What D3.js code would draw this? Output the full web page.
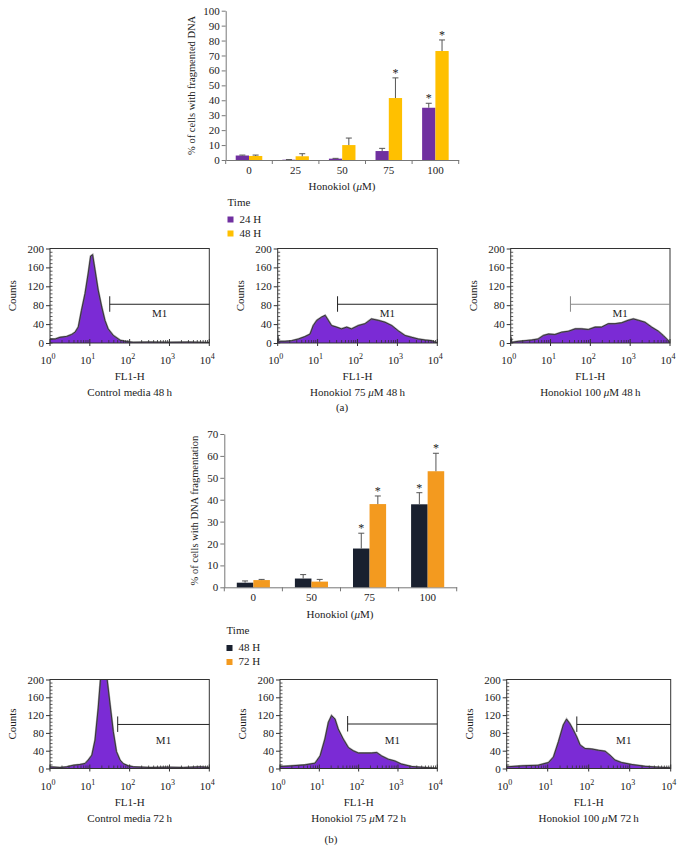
<!DOCTYPE html>
<html><head><meta charset="utf-8">
<script src="https://cdn.jsdelivr.net/npm/d3@7"></script>
<style>
body{margin:0;background:#fff}
svg{display:block}
text{font-family:"Liberation Serif","DejaVu Serif",serif;fill:#222}
</style>
</head><body>
<svg id="c" width="684" height="861"></svg>
<script>
// ---------- Panel (a) bar chart ----------
const dosesA = ["0", "25", "50", "75", "100"];
const seriesA = ["24 H", "48 H"];
const meanA24 = [3.0, 0.2, 0.9, 6.0, 35.0];
const errA24 = [3.3, 0.3, 1.1, 7.8, 38.0];
const meanA48 = [2.7, 2.5, 10.0, 41.5, 73.0];
const errA48 = [3.3, 4.2, 14.7, 55.0, 80.4];
const sigA24 = [0, 0, 0, 0, 1];
const sigA48 = [0, 0, 0, 1, 1];
const yTicksA = [0, 10, 20, 30, 40, 50, 60, 70, 80, 90, 100];

// ---------- Panel (b) bar chart ----------
const dosesB = ["0", "50", "75", "100"];
const seriesB = ["48 H", "72 H"];
const meanB48 = [2.1, 4.0, 17.7, 37.9];
const errB48 = [2.9, 5.8, 24.7, 43.2];
const meanB72 = [3.3, 2.6, 38.0, 53.0];
const errB72 = [3.6, 3.6, 41.7, 61.2];
const sigB48 = [0, 0, 1, 1];
const sigB72 = [0, 0, 1, 1];
const yTicksB = [0, 10, 20, 30, 40, 50, 60, 70];

// ---------- Flow cytometry histograms: [log10(FL1-H), counts] ----------
const histCtrl48 = [[0,8.6],[0.13,8.6],[0.25,12],[0.42,14],[0.54,18],[0.63,23],[0.71,34],[0.79,69],[0.88,105],[0.96,148],[1.02,184],[1.07,187],[1.13,155],[1.21,112],[1.30,76],[1.38,48],[1.46,30],[1.59,16],[1.76,6],[1.92,3],[2.09,1.5],[2.5,2],[3.0,1.5],[3.5,2],[4.0,1]];
const histH75_48 = [[0,16],[0.02,3.6],[0.18,3.6],[0.35,5],[0.52,8.6],[0.68,13.6],[0.81,19],[0.89,37],[0.98,48],[1.10,55],[1.19,58.6],[1.27,48],[1.35,37],[1.48,33.6],[1.60,30],[1.73,33.6],[1.85,30],[2.02,37],[2.19,41],[2.35,51],[2.52,48],[2.69,44],[2.86,37],[3.02,26],[3.19,16],[3.36,12],[3.52,8.6],[3.69,6.4],[3.86,5],[4.0,0]];
const histH100_48 = [[0,13.6],[0.03,1.4],[0.19,3.6],[0.36,5],[0.53,6.4],[0.69,8.6],[0.82,16],[0.95,19],[1.11,18],[1.28,23],[1.45,25],[1.62,30],[1.78,30],[1.95,28.6],[2.12,33.6],[2.28,33.6],[2.45,41],[2.62,41],[2.79,43],[2.95,48],[3.08,51],[3.21,48],[3.37,44],[3.54,33.6],[3.71,25],[3.83,16],[3.96,5],[4.0,0]];
const histCtrl72 = [[0,3.8],[0.25,2.3],[0.42,3.8],[0.59,7.5],[0.75,9],[0.88,11.3],[0.96,19],[1.05,30],[1.13,64],[1.21,136],[1.28,215],[1.42,212],[1.51,143],[1.59,83],[1.67,38],[1.76,19],[1.84,11],[1.97,6],[2.09,4],[2.51,2.3],[2.93,3],[3.35,2.3],[3.77,3.8],[4.0,2.3]];
const histH75_72 = [[0,4.5],[0.30,6],[0.64,8.3],[0.89,12],[1.02,28.6],[1.14,66],[1.23,104],[1.31,119],[1.40,111],[1.48,89],[1.61,66],[1.74,47],[1.86,40],[1.99,35],[2.16,35],[2.33,35],[2.46,36],[2.58,28.6],[2.75,21],[2.92,17],[3.09,10],[3.35,4.5],[3.69,2.3],[4.0,0.8]];
const histH100_72 = [[0,3.8],[0.37,6],[0.77,7.5],[1.02,13.5],[1.14,26],[1.26,60],[1.38,98],[1.46,111],[1.54,101],[1.63,86],[1.71,71],[1.79,53],[1.91,45],[2.07,44],[2.24,41],[2.40,39],[2.52,30],[2.64,19],[2.80,13.5],[3.05,9],[3.37,5],[3.70,3],[4.0,1.5]];
const countTicks = [0, 40, 80, 120, 160, 200];
const decadeTicks = [1, 10, 100, 1000, 10000];

const svg = d3.select("#c");

function barChart(o) {
  const g = svg.append("g");
  const x0 = d3.scaleBand().domain(o.cats).range(o.xr).padding(0);
  const bw = x0.bandwidth();
  const x1 = d3.scaleBand().domain(o.series).range([bw * 0.215, bw * 0.785]).padding(0);
  const y = d3.scaleLinear().domain([0, o.yMax]).range(o.yr);

  const ya = g.append("g").attr("transform", `translate(${o.xr[0]},0)`)
    .call(d3.axisLeft(y).tickValues(o.yTicks).tickSize(4).tickSizeOuter(0).tickPadding(2));
  ya.select(".domain").attr("stroke", "#777");
  ya.selectAll(".tick line").attr("stroke", "#777");
  ya.selectAll(".tick text").style("font-family", '"Liberation Serif",serif').style("font-size", "11px").attr("fill", "#222");

  const xa = g.append("g").attr("transform", `translate(0,${o.yr[0]})`)
    .call(d3.axisBottom(x0).tickSize(0).tickPadding(6));
  xa.select(".domain").attr("stroke", "#777");
  xa.selectAll(".tick text").style("font-family", '"Liberation Serif",serif').style("font-size", "11px").attr("fill", "#222");
  const bounds = o.cats.map(c => x0(c)).concat([x0(o.cats[o.cats.length - 1]) + bw]);
  g.selectAll(".bt").data(bounds).join("line")
    .attr("x1", d => d).attr("x2", d => d)
    .attr("y1", o.yr[0]).attr("y2", o.yr[0] + 4).attr("stroke", "#777");

  o.series.forEach((s, si) => {
    const vals = o.means[si], errs = o.errs[si], sig = o.sigs[si];
    const grp = g.append("g");
    grp.selectAll("rect").data(o.cats).join("rect")
      .attr("x", c => x0(c) + x1(s))
      .attr("width", x1.bandwidth())
      .attr("y", (c, i) => y(vals[i]))
      .attr("height", (c, i) => y(0) - y(vals[i]))
      .attr("fill", o.colors[si]);
    const cx = c => x0(c) + x1(s) + x1.bandwidth() / 2;
    grp.selectAll(".eb").data(o.cats).join("line")
      .attr("x1", cx).attr("x2", cx)
      .attr("y1", (c, i) => y(vals[i])).attr("y2", (c, i) => y(errs[i]))
      .attr("stroke", "#555").attr("stroke-width", 1);
    grp.selectAll(".ec").data(o.cats).join("line")
      .attr("x1", c => cx(c) - 3).attr("x2", c => cx(c) + 3)
      .attr("y1", (c, i) => y(errs[i])).attr("y2", (c, i) => y(errs[i]))
      .attr("stroke", "#555").attr("stroke-width", 1);
    grp.selectAll(".st").data(o.cats.filter((c, i) => sig[i]))
      .join("text")
      .attr("x", cx)
      .attr("y", c => y(errs[o.cats.indexOf(c)]) - 1)
      .attr("text-anchor", "middle").attr("fill", "#333")
      .style("font-family", '"Liberation Serif",serif').style("font-size", "12px").text("*");
  });

  g.append("text")
    .attr("transform", `translate(${o.ylabX},${(o.yr[0] + o.yr[1]) / 2}) rotate(-90)`)
    .attr("text-anchor", "middle").style("font-size", "10.5px").text(o.ylabel);
  const t = g.append("text").attr("x", o.xtX).attr("y", o.xtY).attr("text-anchor", "middle").style("font-size", "11px");
  t.append("tspan").text("Honokiol (");
  t.append("tspan").style("font-style", "italic").text("\u03bc");
  t.append("tspan").text("M)");
  g.append("text").attr("x", o.legX).attr("y", o.legY).style("font-size", "11px").text("Time");
  o.series.forEach((s, si) => {
    const yy = o.legY + 11 + si * 14;
    g.append("rect").attr("x", o.legX).attr("y", yy).attr("width", 6).attr("height", 6).attr("fill", o.colors[si]);
    g.append("text").attr("x", o.legX + 12).attr("y", yy + 6).style("font-size", "11px").text(s);
  });
}

barChart({
  cats: dosesA, series: seriesA, means: [meanA24, meanA48], errs: [errA24, errA48], sigs: [sigA24, sigA48],
  colors: ["#7030a0", "#ffc000"], yMax: 100, yTicks: yTicksA,
  xr: [225.7, 458.7], yr: [160, 10.7],
  ylabel: "% of cells with fragmented DNA", ylabX: 195,
  xtX: 342, xtY: 189.5, legX: 227.5, legY: 205.5
});
barChart({
  cats: dosesB, series: seriesB, means: [meanB48, meanB72], errs: [errB48, errB72], sigs: [sigB48, sigB72],
  colors: ["#19202f", "#f39a1f"], yMax: 70, yTicks: yTicksB,
  xr: [224.3, 456.7], yr: [587.3, 434],
  ylabel: "% of cells with DNA fragmentation", ylabX: 198,
  xtX: 340, xtY: 618, legX: 226.5, legY: 634
});

let clipId = 0;
function histPanel(o) {
  const g = svg.append("g");
  const x = d3.scaleLog().domain([1, 1e4]).range([o.x0, o.x1]);
  const y = d3.scaleLinear().domain([0, 200]).range([o.yb, o.yt]);
  const id = "clip" + (clipId++);
  g.append("clipPath").attr("id", id).append("rect")
    .attr("x", o.x0).attr("y", o.yt).attr("width", o.x1 - o.x0).attr("height", o.yb - o.yt);
  const pts = o.data.map(d => [Math.pow(10, d[0]), d[1]]);
  const area = d3.area().x(d => x(d[0])).y0(y(0)).y1(d => y(d[1]));
  const line = d3.line().x(d => x(d[0])).y(d => y(d[1]));
  const cg = g.append("g").attr("clip-path", `url(#${id})`);
  cg.append("path").datum(pts).attr("d", area).attr("fill", "#7b2bd5");
  cg.append("path").datum(pts).attr("d", line).attr("fill", "none").attr("stroke", "#666").attr("stroke-width", 2).attr("opacity", 0.6);
  cg.append("path").datum(pts).attr("d", line).attr("fill", "none").attr("stroke", "#222").attr("stroke-width", 0.8);

  g.append("rect").attr("x", o.x0).attr("y", o.yt).attr("width", o.x1 - o.x0).attr("height", o.yb - o.yt)
    .attr("fill", "none").attr("stroke", "#333").attr("stroke-width", 1);

  const ya = g.append("g").attr("transform", `translate(${o.x0},0)`)
    .call(d3.axisLeft(y).tickValues(countTicks).tickSize(4).tickSizeOuter(0).tickPadding(2));
  ya.select(".domain").remove();
  ya.selectAll(".tick line").attr("stroke", "#333");
  ya.selectAll(".tick text").style("font-family", '"Liberation Serif",serif').style("font-size", "11px").attr("fill", "#222");
  const minorY = d3.range(0, 201, 8);
  g.selectAll(".my").data(minorY).join("line")
    .attr("x1", o.x0).attr("x2", o.x0 + 2.5).attr("y1", d => y(d)).attr("y2", d => y(d))
    .attr("stroke", "#333").attr("stroke-width", 0.8);

  const minorX = [];
  for (let k = 0; k < 4; k++) for (let m = 2; m <= 9; m++) minorX.push(m * Math.pow(10, k));
  g.selectAll(".mx").data(minorX).join("line")
    .attr("x1", d => x(d)).attr("x2", d => x(d)).attr("y1", o.yb).attr("y2", o.yb - 3)
    .attr("stroke", "#333").attr("stroke-width", 0.8);
  g.selectAll(".Mx").data(decadeTicks).join("line")
    .attr("x1", d => x(d)).attr("x2", d => x(d)).attr("y1", o.yb + 3).attr("y2", o.yb - 4)
    .attr("stroke", "#333").attr("stroke-width", 1);
  const lab = g.selectAll(".xl").data(decadeTicks).join("text")
    .attr("x", d => x(d) - 2).attr("y", o.yb + 21).attr("text-anchor", "middle").style("font-size", "11px");
  lab.append("tspan").text("10");
  lab.append("tspan").attr("dy", -5).style("font-size", "8px").text(d => Math.round(Math.log10(d)));

  const mx0 = x(Math.pow(10, o.mLog)), mx1 = o.x1, my = y(o.mCount);
  g.append("line").attr("x1", mx0).attr("x2", mx1).attr("y1", my).attr("y2", my).attr("stroke", o.mColor).attr("stroke-width", 1);
  g.append("line").attr("x1", mx0).attr("x2", mx0).attr("y1", my - 8).attr("y2", my + 7.5).attr("stroke", o.mColor).attr("stroke-width", 1);
  g.append("text").attr("x", (mx0 + mx1) / 2).attr("y", my + o.mTextDy).attr("text-anchor", "middle").style("font-size", "11px").text("M1");

  g.append("text").attr("transform", `translate(${o.x0 - 34},${(o.yt + o.yb) / 2}) rotate(-90)`)
    .attr("text-anchor", "middle").style("font-size", "11px").text("Counts");
  const cx = (o.x0 + o.x1) / 2;
  g.append("text").attr("x", cx).attr("y", o.yb + 37).attr("text-anchor", "middle").style("font-size", "11px").text("FL1-H");
  const cap = g.append("text").attr("x", cx).attr("y", o.yb + 53).attr("text-anchor", "middle").style("font-size", "11px");
  o.caption.forEach(p => cap.append("tspan").style("font-style", p.it ? "italic" : "normal").text(p.t));
}

const capC48 = [{t: "Control media 48\u2009h"}];
const cap75_48 = [{t: "Honokiol 75 "}, {t: "\u03bc", it: 1}, {t: "M 48\u2009h"}];
const cap100_48 = [{t: "Honokiol 100 "}, {t: "\u03bc", it: 1}, {t: "M 48\u2009h"}];
const capC72 = [{t: "Control media 72\u2009h"}];
const cap75_72 = [{t: "Honokiol 75 "}, {t: "\u03bc", it: 1}, {t: "M 72\u2009h"}];
const cap100_72 = [{t: "Honokiol 100 "}, {t: "\u03bc", it: 1}, {t: "M 72\u2009h"}];

histPanel({data: histCtrl48, x0: 50, x1: 209.3, yt: 248.5, yb: 343, mLog: 1.5, mCount: 82, mColor: "#222", mTextDy: 13, caption: capC48});
histPanel({data: histH75_48, x0: 277.7, x1: 437.3, yt: 248.5, yb: 343, mLog: 1.5, mCount: 82, mColor: "#222", mTextDy: 13, caption: cap75_48});
histPanel({data: histH100_48, x0: 510.7, x1: 670, yt: 248.5, yb: 343, mLog: 1.5, mCount: 82, mColor: "#888", mTextDy: 13, caption: cap100_48});
histPanel({data: histCtrl72, x0: 50, x1: 209.3, yt: 679.5, yb: 768.5, mLog: 1.7, mCount: 99, mColor: "#222", mTextDy: 20, caption: capC72});
histPanel({data: histH75_72, x0: 280, x1: 437.3, yt: 679.5, yb: 768.5, mLog: 1.72, mCount: 100, mColor: "#222", mTextDy: 20, caption: cap75_72});
histPanel({data: histH100_72, x0: 506.7, x1: 670.7, yt: 679.5, yb: 768.5, mLog: 1.71, mCount: 99, mColor: "#222", mTextDy: 20, caption: cap100_72});

svg.append("text").attr("x", 342).attr("y", 411).attr("text-anchor", "middle").style("font-size", "11px").text("(a)");
svg.append("text").attr("x", 331).attr("y", 843).attr("text-anchor", "middle").style("font-size", "11px").text("(b)");
</script>
</body></html>
